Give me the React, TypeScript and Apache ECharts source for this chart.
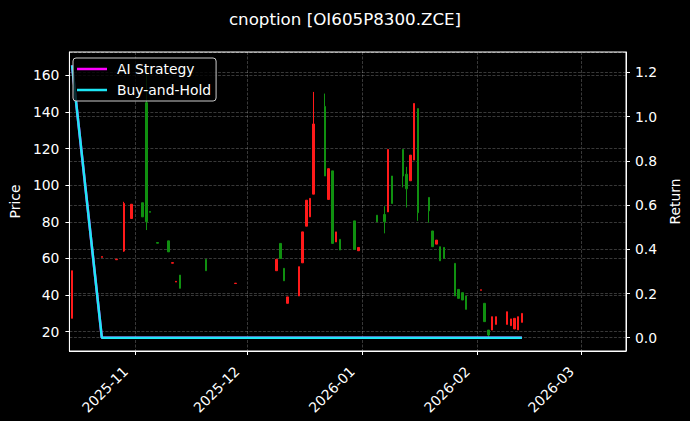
import React, { useEffect, useRef } from "react";
import * as echarts from "echarts";

const TITLE = "cnoption [OI605P8300.ZCE]";

const dates = [
  "2025-10-15", "2025-10-23", "2025-10-27", "2025-10-29", "2025-10-31",
  "2025-11-03", "2025-11-04", "2025-11-05", "2025-11-07", "2025-11-10",
  "2025-11-11", "2025-11-12", "2025-11-13", "2025-11-20", "2025-11-28",
  "2025-12-09", "2025-12-10", "2025-12-11", "2025-12-12", "2025-12-15",
  "2025-12-16", "2025-12-17", "2025-12-18", "2025-12-19", "2025-12-22",
  "2025-12-23", "2025-12-24", "2025-12-25", "2025-12-26", "2025-12-30",
  "2025-12-31", "2026-01-05", "2026-01-07", "2026-01-08", "2026-01-09",
  "2026-01-12", "2026-01-13", "2026-01-14", "2026-01-15", "2026-01-16",
  "2026-01-19", "2026-01-20", "2026-01-21", "2026-01-22", "2026-01-23",
  "2026-01-26", "2026-01-27", "2026-01-28", "2026-01-29", "2026-02-02",
  "2026-02-03", "2026-02-04", "2026-02-05", "2026-02-06", "2026-02-09",
  "2026-02-10", "2026-02-11", "2026-02-12", "2026-02-13",
];

const opens = [
  27.3, 60.6, 59.3, 64, 81.8,
  90.4, 145, 85.6, 68.7, 69.6,
  57.4, 47.1, 50.9, 59.5, 46.3,
  53.3, 68.2, 54.6, 35.5, 39.5,
  57.6, 77.6, 82.7, 95.1, 143,
  92.2, 107.8, 69, 70.4, 80.5,
  64.2, 83.6, 84, 85.4, 105,
  119.5, 106, 102.4, 113.7, 141.8,
  93.3, 75, 67.8, 66.4, 66,
  57.3, 43.1, 41.3, 39.5, 42.6,
  35.5, 20.9, 20.9, 24, 24,
  23.3, 21.5, 21, 25.1,
];

const closes = [
  53.3, 61.0, 59.6, 90, 89.6,
  82.7, 80, 85.2, 68.3, 63.6,
  57.7, 47.5, 43.7, 53.3, 46.5,
  59.5, 60, 47.8, 39, 55.5,
  74.5, 91.8, 92.8, 133.4, 105,
  109, 68.2, 74.5, 64.6, 64.9,
  66, 80, 80, 119.5, 90,
  105, 98, 116.4, 144.6, 85,
  86, 66.4, 70, 58.7, 60,
  39.5, 38.2, 37.3, 32.2, 42.9,
  25.5, 18.2, 28.2, 28.2, 30.9,
  27, 27.3, 28.2, 30,
];

const lows = [
  27.3, 60.6, 59.3, 63.6, 81.8,
  82.7, 75.5, 85.2, 68.3, 63.6,
  57.4, 47.1, 43.7, 53.3, 46.3,
  53.3, 60, 47.8, 35.5, 39.5,
  57.6, 77.6, 82.7, 95.1, 105,
  92.2, 68.2, 69, 64.6, 64.9,
  64.2, 80, 73.7, 85.4, 90,
  98.8, 87.8, 102.4, 113.7, 80.5,
  79.5, 66.4, 67.8, 58.7, 60,
  39.5, 38.2, 37.3, 32.2, 42.6,
  25.5, 17, 20.9, 24, 24,
  23.3, 21.5, 21, 25.1,
];

const highs = [
  53.3, 61.0, 59.6, 90.9, 89.6,
  90.4, 165, 85.6, 68.7, 69.6,
  57.7, 47.5, 50.9, 59.5, 46.5,
  59.5, 68.2, 54.6, 39, 55.5,
  74.5, 91.8, 92.8, 150.9, 150,
  109, 107.8, 74.5, 70.4, 80.5,
  66, 83.6, 88.5, 119.5, 105,
  119.5, 110, 116.4, 144.6, 141.8,
  93.3, 75, 70, 66.4, 66,
  57.3, 43.1, 41.3, 39.5, 42.9,
  35.5, 20.9, 28.2, 28.2, 30.9,
  27, 27.3, 28.2, 30,
];

const aiStrategyReturns = [
  1.232, 0, 0, 0, 0, 0, 0, 0, 0, 0,
  0, 0, 0, 0, 0, 0, 0, 0, 0, 0,
  0, 0, 0, 0, 0, 0, 0, 0, 0, 0,
  0, 0, 0, 0, 0, 0, 0, 0, 0, 0,
  0, 0, 0, 0, 0, 0, 0, 0, 0, 0,
  0, 0, 0, 0, 0, 0, 0, 0, 0,
];

const buyHoldReturns = [
  1.232, 0, 0, 0, 0, 0, 0, 0, 0, 0,
  0, 0, 0, 0, 0, 0, 0, 0, 0, 0,
  0, 0, 0, 0, 0, 0, 0, 0, 0, 0,
  0, 0, 0, 0, 0, 0, 0, 0, 0, 0,
  0, 0, 0, 0, 0, 0, 0, 0, 0, 0,
  0, 0, 0, 0, 0, 0, 0, 0, 0,
];

const FONT = "DejaVu Sans";
const WHITE = "#ffffff";
const GRID_LINE = { color: "rgba(255,255,255,0.28)", width: 0.8, type: [3, 1.5] as number[] };

function toTime(s: string): number {
  const [y, m, d] = s.split("-").map(Number);
  return new Date(y, m - 1, d).getTime();
}

export default function App() {
  const ref = useRef<HTMLDivElement>(null);

  useEffect(() => {
    if (!ref.current) return;
    const chart = echarts.init(ref.current, null, { renderer: "svg" });
    const times = dates.map(toTime);
    const candles = times.map((t, i) => [t, opens[i], closes[i], lows[i], highs[i]]);
    const ai = times.map((t, i) => [t, aiStrategyReturns[i]]);
    const bh = times.map((t, i) => [t, buyHoldReturns[i]]);

    const option: any = {
      animation: false,
      backgroundColor: "#000000",
      title: {
        text: TITLE,
        left: "center",
        top: 5,
        textStyle: { color: WHITE, fontSize: 16.7, fontWeight: "normal", fontFamily: FONT },
      },
      legend: {
        orient: "vertical",
        left: 73,
        top: 58,
        padding: [4, 5, 4, 4],
        itemGap: 7,
        itemWidth: 30,
        itemHeight: 2.5,
        icon: "rect",
        borderColor: "#cccccc",
        borderWidth: 1,
        borderRadius: 3,
        backgroundColor: "rgba(0,0,0,0.8)",
        textStyle: { color: WHITE, fontSize: 13.9, fontFamily: FONT, padding: [0, 0, 0, 5] },
        data: ["AI Strategy", "Buy-and-Hold"],
        z: 10,
      },
      grid: {
        left: 67,
        right: 61,
        top: 52,
        bottom: 70,
        show: true,
        borderColor: WHITE,
        borderWidth: 1,
        backgroundColor: "transparent",
      },
      xAxis: {
        type: "time",
        min: new Date(2025, 9, 14, 6, 43).getTime(),
        max: new Date(2026, 2, 13).getTime(),
        splitNumber: 5,
        axisLine: { onZero: false, lineStyle: { color: WHITE, width: 1 } },
        axisTick: { show: true, length: 4, lineStyle: { color: WHITE } },
        axisLabel: {
          rotate: 45,
          color: WHITE,
          fontSize: 13.9,
          fontFamily: FONT,
          margin: 8,
          padding: [0, 14, 0, 0],
          hideOverlap: false,
          formatter: (v: number) => {
            const d = new Date(v);
            return `${d.getFullYear()}-${String(d.getMonth() + 1).padStart(2, "0")}`;
          },
        },
        splitLine: { show: true, lineStyle: GRID_LINE },
        minorTick: { show: false },
      },
      yAxis: [
        {
          type: "value",
          position: "left",
          min: 9.47,
          max: 172.7,
          minInterval: 20,
          maxInterval: 20,
          name: "Price",
          nameLocation: "middle",
          nameGap: 43,
          nameTextStyle: { color: WHITE, fontSize: 13.9, fontFamily: FONT },
          axisLine: { show: true, onZero: false, lineStyle: { color: WHITE } },
          axisTick: { show: true, length: 4, lineStyle: { color: WHITE } },
          axisLabel: {
            color: WHITE,
            fontSize: 13.9,
            fontFamily: FONT,
            margin: 10,
            showMinLabel: false,
            showMaxLabel: false,
            formatter: (v: number) => String(Math.round(v)),
          },
          splitLine: { show: true, lineStyle: GRID_LINE },
        },
        {
          type: "value",
          position: "right",
          min: -0.06,
          max: 1.292,
          minInterval: 0.2,
          maxInterval: 0.2,
          name: "Return",
          nameLocation: "middle",
          nameGap: 36,
          nameTextStyle: { color: WHITE, fontSize: 13.9, fontFamily: FONT },
          axisLine: { show: true, onZero: false, lineStyle: { color: WHITE } },
          axisTick: { show: true, length: 4, lineStyle: { color: WHITE } },
          axisLabel: {
            color: WHITE,
            fontSize: 13.9,
            fontFamily: FONT,
            margin: 9,
            showMinLabel: false,
            showMaxLabel: false,
            formatter: (v: number) => v.toFixed(1),
          },
          splitLine: { show: true, lineStyle: GRID_LINE },
        },
      ],
      series: [
        {
          name: "Price",
          type: "candlestick",
          xAxisIndex: 0,
          yAxisIndex: 0,
          data: candles,
          encode: { x: 0, y: [1, 2, 3, 4] },
          barWidth: 2,
          itemStyle: {
            color: "#ff1a1a",
            color0: "#109010",
            borderColor: "#ff1a1a",
            borderColor0: "#109010",
            borderWidth: 1,
          },
          z: 2,
        },
        {
          name: "AI Strategy",
          type: "line",
          yAxisIndex: 1,
          data: ai,
          showSymbol: false,
          symbol: "none",
          color: "#ff00ff",
          lineStyle: { color: "#ff00ff", width: 2.5 },
          z: 3,
        },
        {
          name: "Buy-and-Hold",
          type: "line",
          yAxisIndex: 1,
          data: bh,
          showSymbol: false,
          symbol: "none",
          color: "#1ee6f5",
          lineStyle: { color: "#1ee6f5", width: 2.5 },
          z: 4,
        },
      ],
    };
    chart.setOption(option);
    return () => chart.dispose();
  }, []);

  return (
    <div
      ref={ref}
      style={{ position: "fixed", left: 0, top: 0, width: 690, height: 421, background: "#000" }}
    />
  );
}
